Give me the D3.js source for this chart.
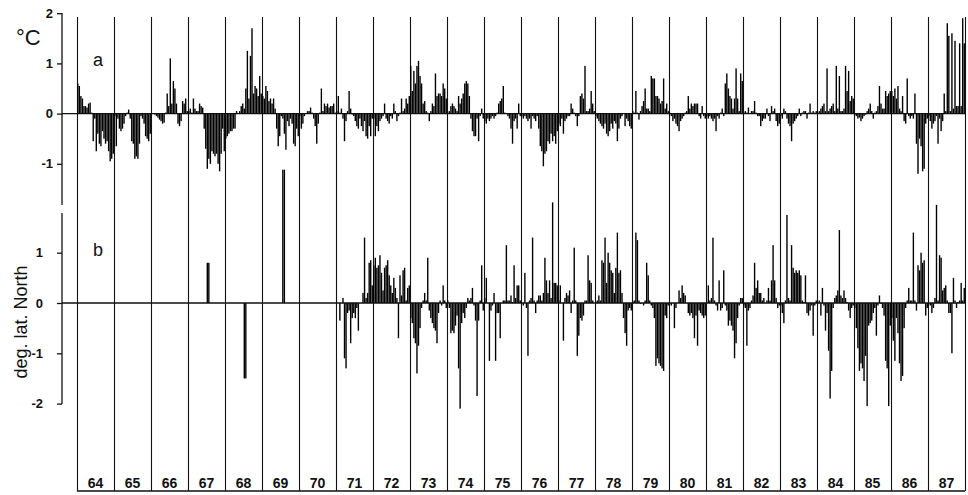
<!DOCTYPE html>
<html>
<head>
<meta charset="utf-8">
<script src="https://cdn.jsdelivr.net/npm/d3@7"></script>
<style>
  body { margin: 0; background: #fff; }
  text { font-family: "Liberation Sans", Arial, sans-serif; fill: #111; }
</style>
</head>
<body>
<div id="chart"></div>
<script>
var svgWidth = 968;
var svgHeight = 495;

// year labels along the bottom
var years = [64, 65, 66, 67, 68, 69, 70, 71, 72, 73, 74, 75, 76, 77, 78, 79, 80, 81, 82, 83, 84, 85, 86, 87];
var slotsPerYear = 24;

// panel a: temperature anomaly, degC (one row per year)
var tempA = [
  [0.6,0.55,0.35,0.3,0.15,0.15,0.12,0.2,0.22,0.02,-0.55,-0.1,-0.75,-0.4,-0.6,-0.65,-0.35,-0.5,-0.6,-0.55,-0.75,-0.95,-0.9,-0.8],
  [-0.05,-0.65,-0.1,-0.3,-0.35,-0.3,-0.2,-0.05,0.02,0.08,-0.1,-0.55,-0.6,-0.9,-0.85,-0.9,-0.6,-0.05,-0.1,-0.2,-0.45,-0.5,-0.55,-0.4],
  [0,0,-0.02,-0.05,-0.08,-0.12,-0.15,-0.2,-0.18,0.02,0.4,0.15,1.1,0.2,0.65,0.5,0.2,-0.2,-0.25,-0.15,0.25,0.2,0.3,0.05],
  [0.05,0.1,0.02,0.3,0.1,0.05,0.05,0.2,0.15,0.12,-0.3,-0.7,-1.1,-0.9,-1.0,-0.75,-0.8,-0.85,-0.8,-1.0,-1.15,-0.8,-0.3,-0.75],
  [-0.5,-0.45,-0.4,-0.35,-0.35,-0.3,-0.3,0.05,0,0.05,0.15,0.2,0.1,0.5,1.25,0.3,1.15,1.7,0.4,0.55,0.5,0.35,0.75,0.4],
  [0.35,0.3,0.55,0.45,0.25,0.3,0.2,0.3,0.1,-0.3,-0.65,-0.45,-0.05,-0.1,-0.4,-0.72,-0.15,-0.25,-0.1,-0.2,-0.6,-0.65,-0.3,-0.45],
  [-0.05,-0.3,-0.2,-0.05,0,0.05,0.05,0.12,0.02,-0.1,-0.25,-0.6,-0.2,0.02,0.5,0.05,0.2,0.15,0.2,0.12,0.15,0.15,0.2,0.02],
  [0.05,0.35,0.02,0.1,-0.1,-0.55,-0.15,0.05,0.45,0.1,-0.02,-0.05,-0.15,-0.25,-0.3,-0.1,-0.25,-0.35,-0.15,-0.45,-0.5,-0.25,-0.45,-0.1],
  [-0.1,-0.45,-0.25,-0.35,-0.15,-0.1,-0.05,0.2,-0.1,-0.15,-0.2,-0.05,-0.1,0.2,0.05,-0.15,-0.05,0.02,0.3,0.05,0.1,0.3,0.2,0.35],
  [0.95,0.45,0.85,0.6,0.95,1.05,0.75,0.6,0.2,0.25,0.05,0.02,-0.15,0.05,0.2,0.15,0.8,0.35,0.4,0.4,0.35,0.6,0.5,0.3],
  [0.02,0.05,0.15,0.2,0.15,0.1,0.05,0.35,0.2,0.3,0.4,0.6,0.65,0.6,0.35,-0.1,-0.35,-0.45,-0.45,-0.1,-0.55,-0.05,0.1,-0.1],
  [-0.15,-0.2,-0.1,-0.15,-0.1,-0.05,-0.1,-0.05,0.02,0.2,0.25,0.3,0.55,0.02,0,-0.05,-0.1,-0.3,-0.6,-0.15,-0.1,-0.3,0.2,-0.05],
  [-0.05,-0.1,-0.05,-0.1,-0.15,-0.1,-0.3,-0.05,-0.1,-0.15,-0.05,-0.3,-0.65,-0.75,-1.05,-0.8,-0.75,-0.55,-0.6,-0.4,-0.55,-0.45,-0.6,-0.35],
  [-0.2,-0.25,-0.1,-0.4,-0.15,-0.1,-0.05,-0.05,0.2,0.1,0.02,-0.05,-0.25,-0.05,0.35,0.4,0.3,0.95,0.05,0.05,0.1,0.45,0.2,0.05],
  [-0.05,-0.1,-0.15,-0.2,-0.25,-0.3,-0.2,-0.4,-0.45,-0.35,-0.2,-0.3,-0.15,-0.2,-0.55,-0.3,-0.1,-0.05,0,-0.25,-0.1,-0.15,-0.25,-0.3],
  [0.05,0.02,0.45,0.02,-0.12,0.05,0.15,0.25,0.5,0.1,0.1,0.05,0.75,0.7,0.7,0.35,0.35,0.3,0.2,0.25,0.7,0.1,0.2,0.05],
  [0.02,-0.05,-0.15,-0.1,-0.2,-0.25,-0.35,-0.15,-0.1,-0.05,0.02,0.05,0.35,0.1,0.2,0.15,0.2,0.2,0.2,-0.05,-0.1,0.15,-0.05,-0.1],
  [-0.05,-0.1,-0.05,-0.1,-0.15,-0.1,-0.35,-0.05,-0.1,0.02,0.1,-0.05,0.6,0.8,0.5,0.35,0.3,0.1,0.3,0.9,0.3,0.05,0.8,0.65],
  [0.02,0.05,0.02,0.12,0,0.05,0.05,0.25,0.02,-0.05,-0.05,-0.25,-0.15,-0.1,-0.1,0.1,-0.05,-0.15,0.15,0.05,0.1,-0.15,-0.25,-0.2],
  [-0.05,-0.1,0.1,0.05,-0.1,-0.2,-0.25,-0.55,-0.2,-0.15,-0.1,-0.05,0.1,-0.05,0.02,0.05,0.05,-0.1,0.02,0.2,0.02,0.05,0.02,0.05],
  [0.02,0.05,0.1,0.15,0.2,0.05,0.9,0.05,0.1,0.15,0.2,0.05,0.95,0.1,0.75,0.05,0.05,0.1,0.95,0.45,0.85,0.25,0.35,0.3],
  [-0.02,-0.05,-0.1,-0.08,-0.15,-0.1,-0.05,-0.02,0.05,0.1,0.2,0.05,-0.1,0.02,0.05,0.15,0.55,0.2,0.1,0.1,0.45,0.35,0.4,0.45],
  [0.45,0.35,0.5,0.3,0.55,0.1,0.05,0.35,-0.15,-0.2,0.7,-0.05,-0.1,-0.05,-0.1,0.4,-0.6,-1.2,-0.5,-0.65,-1.15,-1.1,-0.2,-0.1],
  [-0.05,-0.15,-0.3,-0.2,-0.15,-0.05,-0.6,-0.1,-0.35,-0.15,0.4,0.05,1.8,1.55,0.05,1.6,0.1,1.45,0.15,0.15,1.4,0.15,1.9,1.4]
];

// panel b: latitude anomaly, deg. lat. North (one row per year)
var latB = [
  [0,0,0,0,0,0,0,0,0,0,0,0,0,0,0,0,0,0,0,0,0,0,0,0],
  [0,0,0,0,0,0,0,0,0,0,0,0,0,0,0,0,0,0,0,0,0,0,0,0],
  [0,0,0,0,0,0,0,0,0,0,0,0,0,0,0,0,0,0,0,0,0,0,0,0],
  [0,0,0,0,0,0,0,0,0,0,0,0,0.8,0.8,0,0,0,0,0,0,0,0,0,0],
  [0,0,0,0,0,0,0,0,0,0,0,0,-1.5,-1.5,0,0,0,0,0,0,0,0,0,0],
  [0,0,0,0,0,0,0,0,0,0,0,0,0,2.65,2.65,0,0,0,0,0,0,0,0,0],
  [0,0,0,0,0,0,0,0,0,0,0,0,0,0,0,0,0,0,0,0,0,0,0,0],
  [0,0,-0.35,0,0.1,-1.1,-1.3,-0.2,-0.15,-0.8,-0.3,-0.2,-0.3,-0.1,-0.55,0,0,0.2,1.3,0.1,0.2,0.8,0.85,0.35],
  [0.75,0.9,0.7,0.75,0.95,0.6,0.25,0.7,0.75,0.85,0.55,0.35,0.2,0.5,0.3,0.1,-0.7,0.55,0.15,0.65,0.7,0.05,0.3,0.35],
  [-0.3,-0.4,-0.7,-0.8,-1.4,-0.85,-0.5,-0.1,0.05,0.2,0.05,0.9,-0.15,-0.3,-0.4,-0.5,-0.55,-0.8,-0.2,0.05,-0.05,0.35,0.05,-0.1],
  [0.05,-0.1,-0.6,-0.55,-0.6,-0.45,-0.25,-1.3,-2.1,-0.4,-0.2,-0.3,-0.1,0.1,0.05,0.1,0.3,-0.05,-0.35,-1.85,-0.35,0.05,0.75,-0.15],
  [0.1,0.5,0,-1.15,-0.15,-0.05,0.2,-1.15,-0.2,-0.2,-0.7,0,0.05,0.05,1.15,0.05,0.05,0.15,0.02,0.75,0.1,0.35,0.35,0.05],
  [0,-0.05,0.6,-0.1,-1.05,0.05,0.1,1.3,0.05,-0.2,0.05,0.15,0.15,0.05,0.2,0.9,0.45,0.2,0.45,0.1,2.0,0.4,0.4,0.35],
  [0.05,0.35,0,-0.75,0.1,0.2,0.15,0.25,-0.2,0.05,1.1,0.05,-1.05,-0.65,-0.3,-0.35,-0.25,0.05,0.05,0.95,0.45,0.4,0.05,0],
  [0.02,0.05,0.15,0.05,0.85,0.8,1.3,0.4,1.0,0.8,0.65,0.6,0.2,0.7,1.4,0.6,0.65,0.2,-0.3,-0.6,-0.85,-0.15,-0.1,-0.15],
  [0.02,0.05,1.4,1.25,0.05,-0.02,0,-0.05,0.05,0.8,0.55,0.05,-0.05,-0.1,-0.3,-1.25,-1.1,-1.2,-1.25,-1.3,-1.35,-0.25,-0.3,-0.05],
  [0,-0.05,0,-0.5,-0.1,0,0.25,0.1,0.35,0.2,0.15,0,-0.2,-0.25,-0.2,-0.3,-0.7,-0.25,-0.85,-0.15,-0.2,-0.25,-0.3,-0.25],
  [0,0.35,0.05,0.1,1.3,0.05,-0.05,-0.15,0.45,-0.15,-0.1,0.65,-0.05,-0.15,-0.45,-0.35,-0.45,-0.55,-1.1,-0.8,-0.3,-0.05,0.1,0.1],
  [-0.05,-0.1,-0.85,-0.15,-0.1,0.05,0.15,0.8,0.3,0.45,0.2,0.2,0.05,0.1,0,0.05,0.3,0.05,0.45,1.15,0.45,0.1,-0.1,-0.05],
  [-0.05,-0.2,-0.4,0.05,1.75,0.1,0.05,1.15,0.7,0.6,0.65,0.6,0.65,0.55,0.05,0.02,0.55,-0.2,-0.25,-0.15,-0.05,-0.65,-0.05,0.05],
  [0.02,0.05,-0.25,0.3,-0.05,-0.55,-0.2,-0.95,-1.9,-1.35,-0.1,0.1,0.15,0.25,1.45,0.15,0.1,0.25,0.1,0.02,-0.15,-0.3,-0.1,-0.05],
  [-0.1,-0.5,-0.9,-1.35,-1.2,-1.3,-1.55,-1.05,-2.05,-0.45,-0.4,-0.35,-0.2,-0.1,-0.65,-0.05,0.15,-0.02,-0.1,-0.25,-1.15,-1.3,-2.05,-0.45],
  [-0.3,-0.75,-1.15,-0.3,-0.6,-1.2,-1.55,-1.45,-0.5,-0.1,0.05,0.3,0.05,0.05,1.4,0.05,-0.15,0.75,0.65,1.0,0.8,0.85,-0.25,-0.1],
  [0,-0.05,-0.2,-0.1,0.1,1.95,0.05,0.95,0.9,0.25,0.3,0.35,0.05,-0.2,-0.2,-1.0,0.5,0.05,-0.1,0.02,0.05,0.4,0.05,0.3]
];

var ticksA = [2, 1, 0, -1];
var ticksB = [1, 0, -1, -2];

var svg = d3.select("#chart")
    .append("svg")
    .attr("width", svgWidth)
    .attr("height", svgHeight);

// time scale: one unit = one year
var x = d3.scaleLinear()
    .domain([0, years.length])
    .range([77, 965]);

var yA = d3.scaleLinear().domain([-1, 2]).range([163.8, 13.2]);
var yB = d3.scaleLinear().domain([-2, 1]).range([403.6, 252.7]);

var axisX = 62;
var ink = "#111";

// flatten rows into {t, v}
function flatten(rows) {
    var out = [];
    rows.forEach(function(row, i) {
        row.forEach(function(v, j) {
            if (v !== 0) out.push({ t: i + j / slotsPerYear, v: v });
        });
    });
    return out;
}

// year separator lines
svg.append("g")
    .selectAll("line")
    .data(d3.range(years.length + 1))
    .enter()
    .append("line")
    .attr("x1", d => Math.round(x(d)) + 0.5)
    .attr("x2", d => Math.round(x(d)) + 0.5)
    .attr("y1", 17)
    .attr("y2", 491)
    .attr("stroke", ink)
    .attr("stroke-width", 1.1);

// bottom line under the year labels
svg.append("line")
    .attr("x1", x(0)).attr("x2", x(years.length))
    .attr("y1", 491).attr("y2", 491)
    .attr("stroke", ink).attr("stroke-width", 1.3);

// year labels
svg.append("g")
    .selectAll("text")
    .data(years)
    .enter()
    .append("text")
    .attr("x", (d, i) => x(i + 0.5))
    .attr("y", 488)
    .attr("text-anchor", "middle")
    .attr("font-size", 14)
    .attr("font-weight", "bold")
    .text(d => d);

function drawPanel(rows, y, ticks, labelPad, axisTop, axisBottom) {
    var barW = (x(1) - x(0)) / slotsPerYear;

    svg.append("g")
        .selectAll("rect")
        .data(flatten(rows))
        .enter()
        .append("rect")
        .attr("x", d => x(d.t) + 0.1)
        .attr("width", barW * 0.9)
        .attr("y", d => Math.min(y(d.v), y(0)))
        .attr("height", d => Math.abs(y(d.v) - y(0)))
        .attr("fill", "#000");

    // zero line
    svg.append("line")
        .attr("x1", axisX).attr("x2", x(years.length))
        .attr("y1", y(0)).attr("y2", y(0))
        .attr("stroke", ink).attr("stroke-width", 1.4);

    // left axis
    svg.append("line")
        .attr("x1", axisX).attr("x2", axisX)
        .attr("y1", axisTop).attr("y2", axisBottom)
        .attr("stroke", ink).attr("stroke-width", 1.3);

    var leftAxis = d3.axisLeft(y)
        .tickValues(ticks)
        .tickSize(5)
        .tickPadding(labelPad)
        .tickFormat(d => (d < 0 ? "-" : "") + Math.abs(d));

    var g = svg.append("g")
        .attr("transform", `translate(${axisX},0)`)
        .call(leftAxis);
    g.select(".domain").remove();
    g.selectAll(".tick line").attr("stroke", ink).attr("stroke-width", 1.3);
    g.selectAll(".tick text")
        .attr("font-size", 13)
        .attr("font-weight", "bold")
        .attr("font-family", "Liberation Sans, Arial, sans-serif")
        .attr("fill", ink);
}

drawPanel(tempA, yA, ticksA, 4, 13, 205);
drawPanel(latB, yB, ticksB, 14, 213, 404);

// panel letters and axis titles
svg.append("text").attr("x", 93).attr("y", 66).attr("font-size", 18).text("a");
svg.append("text").attr("x", 93).attr("y", 256).attr("font-size", 18).text("b");

svg.append("text")
    .attr("x", 16).attr("y", 45)
    .attr("font-size", 22)
    .text("°C");

svg.append("text")
    .attr("transform", "translate(27,322) rotate(-90)")
    .attr("text-anchor", "middle")
    .attr("font-size", 18)
    .text("deg. lat. North");
</script>
</body>
</html>
